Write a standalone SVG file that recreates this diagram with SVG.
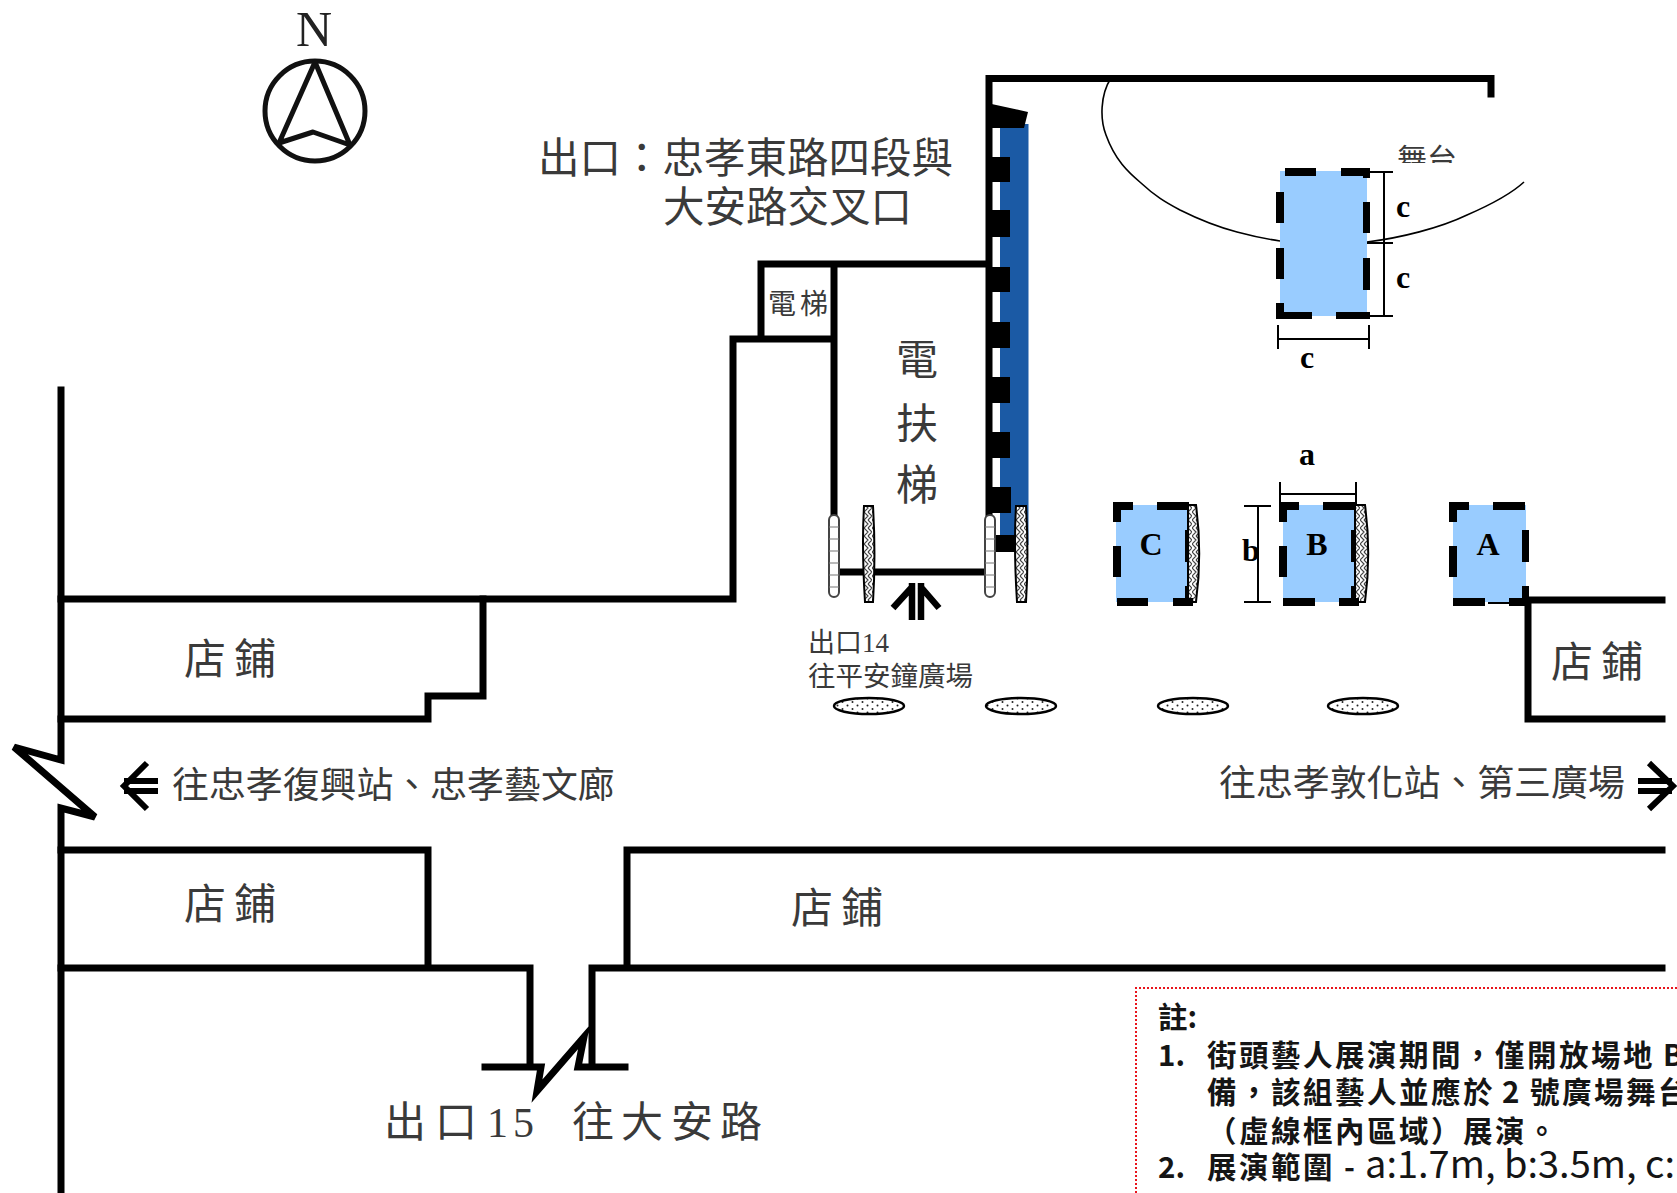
<svg xmlns="http://www.w3.org/2000/svg" width="1677" height="1193" viewBox="0 0 1677 1193">
<style>
.w{fill:none;stroke:#000;stroke-width:7;stroke-linecap:square;stroke-linejoin:miter}
.t{fill:none;stroke:#000;stroke-width:2}
.zone{fill:#99ccff}
.dash{fill:#000}
.lab{font-family:"Liberation Serif","Noto Sans CJK TC",serif;fill:#3a3a3a}
.big{font-size:42px}
.sl{font-family:"Liberation Serif",serif;font-weight:700;fill:#000;font-size:32px;text-anchor:middle}
.note{font-family:"Noto Sans CJK TC","Noto Sans",sans-serif;font-size:29.500px;font-weight:700;fill:#151515}
.hatch{fill:url(#hp);stroke:#000;stroke-width:2}
.oval{fill:url(#dp);stroke:#000;stroke-width:2.500}
.gate{fill:#fff;stroke:#444;stroke-width:2}
.rung{stroke:#777;stroke-width:1.2}
</style>
<defs>
<pattern id="hp" width="8" height="8" patternUnits="userSpaceOnUse"><rect width="8" height="8" fill="#fff"/><path d="M0 0L4 4L0 8M4 0L8 4L4 8" fill="none" stroke="#444" stroke-width="1.200"/></pattern>
<pattern id="dp" width="10" height="7" patternUnits="userSpaceOnUse"><rect width="10" height="7" fill="#fff"/><circle cx="2.500" cy="2" r="1" fill="#222"/><circle cx="7.500" cy="5.500" r="1" fill="#222"/></pattern>
<clipPath id="stageclip"><rect x="1390" y="135" width="80" height="28"/></clipPath>
</defs>
<rect width="1677" height="1193" fill="#fff"/>

<g id="connectors">
<path class="w" d="M61 390V760L14 747L95 817L61 808V1193"/>
<path class="w" d="M61 599H733V339H834M761 339V264H987M834 264V515M838 572H983"/>
<path class="w" d="M483 599V696H428V719H61"/>
<path class="w" d="M61 850H428V968M61 968H530V1067M485 1067H541L537 1091L584 1037L578 1067H625M592 1067V968H1662M627 968V850H1662"/>
<path class="w" d="M1525 600H1662M1528 600V719H1662"/>
<path class="w" d="M1491 94V78.500H989V515"/>
<g id="up-arrow" fill="none" stroke="#000" stroke-width="6.500"><path d="M912 583V620M921 583V620M893 608L913 586M939 608L920 586"/></g>
<g id="west-arrow" fill="none" stroke="#000" stroke-width="6"><path d="M124 781H158M124 791H158M147 763L124 786L147 809"/></g>
<g id="east-arrow" fill="none" stroke="#000" stroke-width="6"><path d="M1638 781H1672M1638 791H1672M1649 763L1673 786L1649 809"/></g>
</g>

<g id="compass" fill="none" stroke="#111" stroke-width="5">
<circle cx="315" cy="111" r="50"/>
<path d="M315 62L279 143L313 132L350 145Z" stroke-linejoin="round"/>
<text x="314" y="46" font-family="Liberation Serif,serif" font-size="50" text-anchor="middle" fill="#222" stroke="none">N</text>
</g>

<g id="escalator-wall">
<rect x="1000" y="124" width="28.500" height="421" fill="#1b5aa5"/>
<path d="M987 103L1028 112L1024 128L987 128Z" fill="#000"/>
<path class="dash" d="M987 157h23v25h-23zM987 210h23v27h-23zM987 267h23v25h-23zM987 322h23v26h-23zM987 377h23v26h-23zM987 432h23v26h-23zM987 487h24v26h-24zM993 535h22v17h-22z"/>
</g>

<g id="stage">
<path d="M1111 78C1100 95 1100 120 1106 135C1115 160 1128 172 1141 183C1155 196 1165 202 1180 210C1200 220 1218 227 1237 232C1252 236 1266 239 1280 241" fill="none" stroke="#000" stroke-width="1.600"/>
<path d="M1367 242C1400 238 1440 228 1467 215C1490 205 1510 195 1524 182" fill="none" stroke="#000" stroke-width="1.600"/>
<text class="lab" x="1397" y="170" font-size="30" clip-path="url(#stageclip)">舞台</text>
</g>

<g id="zone-stage">
<rect class="zone" x="1280" y="171" width="87" height="145"/>
<path class="dash" d="M1285 168h31v8h-31zM1341 168h29v8h-29zM1363 168h7v10h-7zM1276 192h8v31h-8zM1276 248h8v31h-8zM1276 303h8v16h-8zM1280 312h32v7h-32zM1336 312h34v7h-34zM1363 202h7v31h-7zM1363 258h7v32h-7z"/>
<path class="t" d="M1384 172V316M1367 172H1393M1367 243H1393M1367 316H1393M1278 339H1369M1278 325V349M1369 325V349"/>
<text class="sl" x="1403" y="217">c</text><text class="sl" x="1403" y="288">c</text><text class="sl" x="1307" y="368">c</text>
</g>

<g id="zone-c">
<rect class="zone" x="1116" y="505" width="71" height="97"/>
<path class="hatch" d="M1188 505H1196C1200 535 1200 572 1196 602H1188Z"/>
<path class="dash" d="M1113 502h20v8h-20zM1113 502h8v20h-8zM1157 502h32v8h-32zM1113 546h8v31h-8zM1117 598h31v8h-31zM1173 598h20v8h-20zM1185 530h3v32h-3zM1185 586h3v16h-3z"/>
<text class="sl" x="1151" y="555">C</text>
</g>

<g id="zone-b">
<rect class="zone" x="1283" y="505" width="72" height="97"/>
<path class="hatch" d="M1355 505H1365C1369 535 1369 572 1365 602H1355Z"/>
<path class="dash" d="M1279 502h20v8h-20zM1279 502h8v20h-8zM1323 502h32v8h-32zM1279 546h8v31h-8zM1283 598h32v8h-32zM1339 598h20v8h-20zM1351 530h4v32h-4zM1351 586h4v16h-4z"/>
<text class="sl" x="1317" y="555">B</text>
<path class="t" d="M1280 494H1356M1280 482V505M1356 482V505M1258 506V602M1244 506H1271M1244 602H1271"/>
<text class="sl" x="1307" y="465">a</text><text class="sl" x="1251" y="561">b</text>
</g>

<g id="zone-a">
<rect class="zone" x="1453" y="505" width="73" height="97"/>
<path class="dash" d="M1449 502h20v8h-20zM1449 502h8v20h-8zM1493 502h32v8h-32zM1449 546h8v31h-8zM1453 598h32v8h-32zM1509 598h20v8h-20zM1522 530h7v32h-7zM1522 586h7v16h-7z"/>
<path class="t" d="M1488 603H1510"/>
<text class="sl" x="1488" y="555">A</text>
</g>

<g id="gates">
<g><rect class="gate" x="829" y="515" width="10" height="82" rx="5"/><path class="rung" d="M829 527h10M829 539h10M829 551h10M829 563h10M829 575h10M829 587h10"/></g>
<g><rect class="gate" x="985" y="515" width="10" height="82" rx="5"/><path class="rung" d="M985 527h10M985 539h10M985 551h10M985 563h10M985 575h10M985 587h10"/></g>
<path class="hatch" d="M864 506H873C875 540 875 570 873 602H865C863 570 862 540 864 506Z"/>
<path class="hatch" d="M1016 506H1026C1028 540 1028 570 1026 602H1017C1015 570 1014 540 1016 506Z"/>
</g>

<g id="ovals">
<ellipse class="oval" cx="869" cy="706" rx="35" ry="8"/>
<ellipse class="oval" cx="1021" cy="706" rx="35" ry="8"/>
<ellipse class="oval" cx="1193" cy="706" rx="35" ry="8"/>
<ellipse class="oval" cx="1363" cy="706" rx="35" ry="8"/>
</g>

<g id="labels">
<text class="lab" x="538" y="173" font-size="41.500">出口：忠孝東路四段與</text>
<text class="lab" x="663" y="222" font-size="41.500">大安路交叉口</text>
<text class="lab" x="768 800" y="314" font-size="28">電梯</text>
<text class="lab" x="896" y="375" font-size="42">電</text>
<text class="lab" x="896" y="439" font-size="42">扶</text>
<text class="lab" x="896" y="500" font-size="42">梯</text>
<text class="lab" x="808" y="652" font-size="27">出口14</text>
<text class="lab" x="808" y="686" font-size="27.500">往平安鐘廣場</text>
<text class="lab big" x="184 234" y="674">店鋪</text>
<text class="lab big" x="184 234" y="919">店鋪</text>
<text class="lab big" x="791 841" y="923">店鋪</text>
<text class="lab big" x="1551 1601" y="677">店鋪</text>
<text class="lab" x="172" y="798" font-size="36.900">往忠孝復興站、忠孝藝文廊</text>
<text class="lab" x="1219" y="796" font-size="36.900">往忠孝敦化站、第三廣場</text>
<text class="lab big" x="384 435 487 513 572 621 671 720" y="1137">出口15往大安路</text>
</g>

<g id="note">
<path d="M1136 1193V988H1677" fill="none" stroke="#e8141c" stroke-width="2" stroke-dasharray="2 2"/>
<text class="note" x="1158" y="1028">註:</text>
<text class="note" x="1158" y="1066">1.</text>
<text class="note" y="1066"><tspan x="1207 1239 1271 1303 1335 1367 1399 1431 1463 1495 1527 1559 1591 1623">街頭藝人展演期間，僅開放場地</tspan><tspan x="1663">B</tspan></text>
<text class="note" y="1103"><tspan x="1207 1239 1271 1303 1335 1367 1399 1431 1463">備，該組藝人並應於</tspan><tspan x="1502">2</tspan><tspan x="1530 1562 1594 1626 1658">號廣場舞台</tspan></text>
<text class="note" x="1207 1239 1271 1303 1335 1367 1399 1431 1463 1495 1527" y="1142">（虛線框內區域）展演。</text>
<text class="note" x="1158" y="1178">2.</text>
<text class="note" x="1207 1239 1271 1303" y="1178">展演範圍</text>
<text class="note" x="1344" y="1178" font-weight="400">-</text>
<text class="note" x="1365" y="1178" style="font-size:38px;font-weight:400">a:1.7m, b:3.5m, c:</text>
</g>
</svg>
